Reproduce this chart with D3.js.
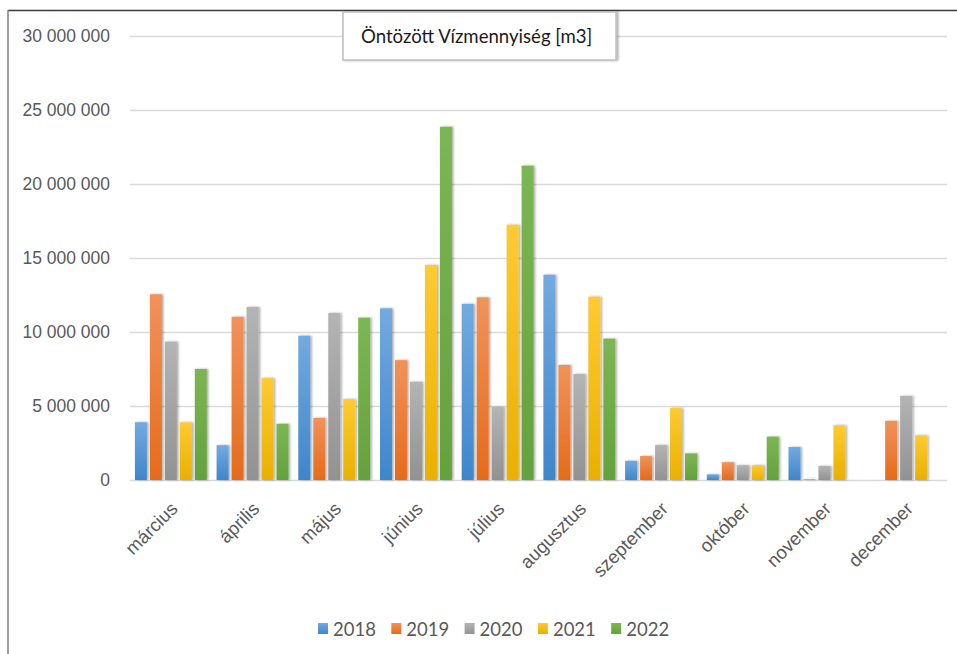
<!DOCTYPE html>
<html>
<head>
<meta charset="utf-8"/>
<title>Öntözött Vízmennyiség</title>
<script src="https://d3js.org/d3.v7.min.js"></script>
<style>
    body { margin: 0; background: #fff; }
    svg { font-family: Lato, "Open Sans", sans-serif; }
    .tick line { stroke: #d9d9d9; stroke-width: 1.5; }
    .tick text { fill: #595959; font-size: 17.5px; }
    .xaxis .tick text { font-size: 18.5px; }
</style>
</head>
<body>
<svg id="chart" width="957" height="654"></svg>
<script>
// months on the x axis
var months = ["március", "április", "május", "június", "július",
              "augusztus", "szeptember", "október", "november", "december"];
var years = ["2018", "2019", "2020", "2021", "2022"];

// values, m3
var v2018 = [3900000, 2350000, 9750000, 11600000, 11900000, 13870000, 1300000, 380000, 2230000, 0];
var v2019 = [12550000, 11030000, 4200000, 8100000, 12340000, 7770000, 1620000, 1200000, 50000, 4000000];
var v2020 = [9350000, 11690000, 11280000, 6640000, 4930000, 7160000, 2360000, 1000000, 950000, 5680000];
var v2021 = [3900000, 6890000, 5470000, 14530000, 17250000, 12390000, 4860000, 1000000, 3700000, 3020000];
var v2022 = [7500000, 3800000, 10970000, 23870000, 21240000, 9550000, 1800000, 2930000, 0, 0];
var yTicks = [0, 5000000, 10000000, 15000000, 20000000, 25000000, 30000000];

var series = [v2018, v2019, v2020, v2021, v2022];
var colors = ["#5b9bd5", "#ed7d31", "#a5a5a5", "#ffc000", "#70ad47"];
var tops   = ["#73aae0", "#f1925a", "#b4b4b4", "#ffca33", "#7cb653"];
var bottoms = ["#3e86cb", "#e56b1a", "#929292", "#e9b000", "#63a23d"];

var svg = d3.select("#chart");

// frame lines from the screenshot
svg.append("line").attr("x1", 8).attr("x2", 957).attr("y1", 10.5).attr("y2", 10.5)
    .attr("stroke", "#3a3a3a").attr("stroke-width", 1.5);
svg.append("line").attr("x1", 8).attr("x2", 8).attr("y1", 10).attr("y2", 654)
    .attr("stroke", "#808080").attr("stroke-width", 1.5);

var defs = svg.append("defs");
colors.forEach(function(c, i) {
    var g = defs.append("linearGradient").attr("id", "grad" + i)
        .attr("x1", 0).attr("x2", 0).attr("y1", 0).attr("y2", 1);
    g.append("stop").attr("offset", "0%").attr("stop-color", tops[i]);
    g.append("stop").attr("offset", "100%").attr("stop-color", bottoms[i]);
});
var sh = defs.append("filter").attr("id", "shadow")
    .attr("x", "-30%").attr("y", "-10%").attr("width", "160%").attr("height", "120%");
sh.append("feDropShadow").attr("dx", 1.5).attr("dy", 0).attr("stdDeviation", 1)
    .attr("flood-color", "#000").attr("flood-opacity", 0.35);

var plotLeft = 130, plotRight = 947, plotTop = 36, plotBottom = 480;

var y = d3.scaleLinear().domain([0, 30000000]).range([plotBottom, plotTop]);
var x0 = d3.scaleBand().domain(months).range([plotLeft, plotRight])
    .paddingInner(0.12).paddingOuter(0.06);
var x1 = d3.scaleBand().domain(years).range([0, x0.bandwidth()]).paddingInner(0.2);

var huFormat = d3.formatLocale({decimal: ",", thousands: " ", grouping: [3], currency: ["", ""]}).format(",d");

// y axis with gridlines
var yAxis = svg.append("g").attr("transform", "translate(" + plotLeft + ",0)")
    .call(d3.axisLeft(y).tickValues(yTicks).tickFormat(huFormat)
        .tickSize(-(plotRight - plotLeft)).tickPadding(20));
yAxis.select(".domain").remove();

// bars
var groups = svg.append("g").selectAll("g")
    .data(series)
    .enter().append("g")
    .attr("fill", function(d, i) { return "url(#grad" + i + ")"; })
    .attr("filter", "url(#shadow)");

groups.each(function(vals, i) {
    d3.select(this).selectAll("rect")
        .data(vals.map(function(v, j) { return {month: months[j], value: v}; })
            .filter(function(d) { return d.value > 0; }))
        .enter().append("rect")
        .attr("x", function(d) { return x0(d.month) + x1(years[i]); })
        .attr("width", x1.bandwidth())
        .attr("y", function(d) { return y(d.value); })
        .attr("height", function(d) { return plotBottom - y(d.value); });
});

// x axis labels
var xAxis = svg.append("g").attr("class", "xaxis")
    .attr("transform", "translate(0," + plotBottom + ")")
    .call(d3.axisBottom(x0).tickSize(0));
xAxis.select(".domain").remove();
xAxis.selectAll("text")
    .attr("x", 0).attr("y", 0).attr("dy", 0)
    .attr("text-anchor", "end")
    .attr("transform", "translate(8,30) rotate(-45)");

// title box
svg.append("rect").attr("x", 343).attr("y", 12).attr("width", 273).attr("height", 48)
    .attr("fill", "#fff").attr("stroke", "#bfbfbf").attr("stroke-width", 1.5)
    .attr("filter", "url(#shadow)");
svg.append("text").attr("x", 361).attr("y", 43)
    .attr("font-size", 18.6).attr("fill", "#1a1a1a")
    .text("Öntözött Vízmennyiség [m3]");

// legend
var legend = svg.append("g").selectAll("g")
    .data(years)
    .enter().append("g")
    .attr("transform", function(d, i) { return "translate(" + (318 + i * 73.3) + ",623)"; });
legend.append("rect").attr("width", 10).attr("height", 11)
    .attr("fill", function(d, i) { return "url(#grad" + i + ")"; });
legend.append("text").attr("x", 15).attr("y", 12.5)
    .attr("font-size", 18.5).attr("fill", "#595959")
    .text(function(d) { return d; });
</script>
</body>
</html>
